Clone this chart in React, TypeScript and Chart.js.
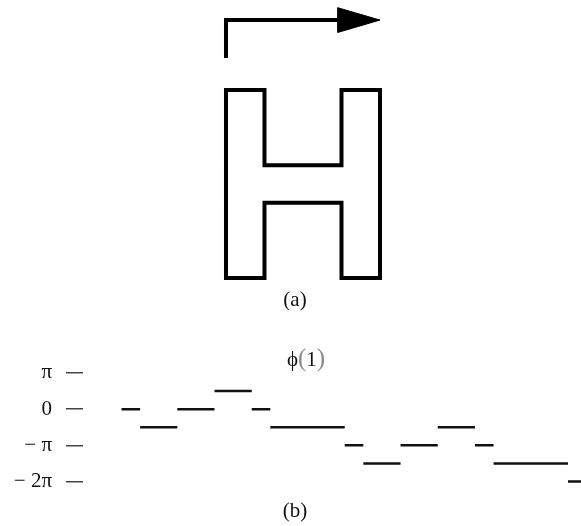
import { useEffect, useRef } from "react";
import { Chart, registerables } from "chart.js";

Chart.register(...registerables);

// ---------- (a) the H-shaped path and the arrow above it (grid units: one unit = one column width) ----------
const hOutlineX = [0, 1, 1, 3, 3, 4, 4, 3, 3, 1, 1, 0, 0, 1];
const hOutlineY = [0, 0, 2, 2, 0, 0, 5, 5, 3, 3, 5, 5, 0, 0];
const arrowShaftX = [0, 0, 2.95];
const arrowShaftY = [-0.85, -1.86, -1.86];
const arrowHeadX = [2.9, 4.0, 2.9, 2.9];
const arrowHeadY = [-2.19, -1.86, -1.53, -2.19];

// ---------- (b) phase ϕ(1): piecewise constant, values in units of π ----------
const segStart = [0, 1, 3, 5, 7, 8, 12, 13, 15, 17, 19, 20, 24];
const segEnd = [1, 3, 5, 7, 8, 12, 13, 15, 17, 19, 20, 24, 25];
const phase = [0, -0.5, 0, 0.5, 0, -0.5, -1, -1.5, -1, -0.5, -1, -1.5, -2];
const tickValues = [1, 0, -1, -2];
const tickLabels = ["π", "0", "− π", "− 2π"];

const SERIF = "'Liberation Serif', 'Times New Roman', serif";

const zip = (xs: number[], ys: number[]) => xs.map((x, i) => ({ x, y: ys[i] }));

export default function App() {
  const refA = useRef<HTMLCanvasElement | null>(null);
  const refB = useRef<HTMLCanvasElement | null>(null);

  useEffect(() => {
    if (!refA.current || !refB.current) return;

    const lineDs = (data: { x: number; y: number }[]) => ({
      data,
      showLine: true,
      borderColor: "#000",
      borderWidth: 4,
      pointRadius: 0,
      fill: false,
      borderJoinStyle: "miter" as const,
      borderCapStyle: "butt" as const,
    });

    const chartA = new Chart(refA.current, {
      type: "scatter",
      data: {
        datasets: [
          lineDs(zip(hOutlineX, hOutlineY)),
          lineDs(zip(arrowShaftX, arrowShaftY)),
          {
            data: zip(arrowHeadX, arrowHeadY),
            showLine: true,
            borderColor: "#000",
            backgroundColor: "#000",
            borderWidth: 1,
            pointRadius: 0,
            fill: "shape",
          } as any,
        ],
      },
      options: {
        animation: false,
        responsive: false,
        events: [],
        layout: { padding: 0 },
        plugins: { legend: { display: false }, tooltip: { enabled: false } },
        scales: {
          x: { type: "linear", display: false, min: -5.87, max: 9.221 },
          y: { type: "linear", display: false, reverse: true, min: -2.394, max: 5.319 },
        },
      },
    });

    const segPoints: { x: number; y: number | null }[] = [];
    segStart.forEach((s, i) => {
      segPoints.push({ x: s, y: phase[i] });
      segPoints.push({ x: segEnd[i], y: phase[i] });
      segPoints.push({ x: segEnd[i], y: null });
    });

    const chartB = new Chart(refB.current, {
      type: "scatter",
      data: {
        datasets: [
          {
            data: segPoints as any,
            showLine: true,
            spanGaps: false,
            borderColor: "#111",
            borderWidth: 2.5,
            pointRadius: 0,
            borderCapStyle: "butt",
          },
        ],
      },
      options: {
        animation: false,
        responsive: false,
        events: [],
        layout: { padding: { left: 0, right: 0, top: 31, bottom: 10 } },
        plugins: {
          legend: { display: false },
          tooltip: { enabled: false },
          title: { display: false },
        },
        scales: {
          x: { type: "linear", display: false, min: -2.07, max: 24.7 },
          y: {
            type: "linear",
            min: -2.234,
            max: 1.054,
            border: { display: false },
            grid: {
              display: true,
              drawOnChartArea: false,
              drawTicks: true,
              tickLength: 17,
              color: "#444",
              lineWidth: 1.5,
            },
            ticks: {
              padding: 14,
              color: "#111",
              autoSkip: false,
              font: { family: SERIF, size: 21 },
              callback: (v: any) => {
                const i = tickValues.indexOf(Number(v));
                return i >= 0 ? tickLabels[i] : "";
              },
            },
            afterBuildTicks: (axis: any) => {
              axis.ticks = tickValues.map((v) => ({ value: v }));
            },
            afterFit: (axis: any) => {
              axis.width = 83;
              axis.paddingTop = 0;
              axis.paddingBottom = 0;
            },
          } as any,
        },
      },
    });

    return () => {
      chartA.destroy();
      chartB.destroy();
    };
  }, []);

  const caption = (content: any, cx: number, cy: number, size = 21) => (
    <div
      style={{
        position: "absolute",
        left: cx - 60,
        top: cy - 12,
        width: 120,
        height: 24,
        lineHeight: "24px",
        textAlign: "center",
        fontFamily: SERIF,
        fontSize: size,
        color: "#111",
        whiteSpace: "nowrap",
      }}
    >
      {content}
    </div>
  );

  const paren = (c: string) => (
    <span style={{ color: "#8a8a8a", fontSize: 25 }}>{c}</span>
  );

  return (
    <div
      style={{
        position: "absolute",
        left: 0,
        top: 0,
        width: 581,
        height: 526,
        background: "#fff",
        overflow: "hidden",
      }}
    >
      <canvas
        ref={refA}
        width={581}
        height={290}
        style={{ position: "absolute", left: 0, top: 0, width: 581, height: 290 }}
      />
      {caption("(a)", 295, 299)}
      <canvas
        ref={refB}
        width={581}
        height={160}
        style={{ position: "absolute", left: 0, top: 340, width: 581, height: 160 }}
      />
      {caption(
        <span>
          ϕ{paren("(")}1{paren(")")}
        </span>,
        306,
        358,
        21
      )}
      {caption("(b)", 295, 510)}
    </div>
  );
}
